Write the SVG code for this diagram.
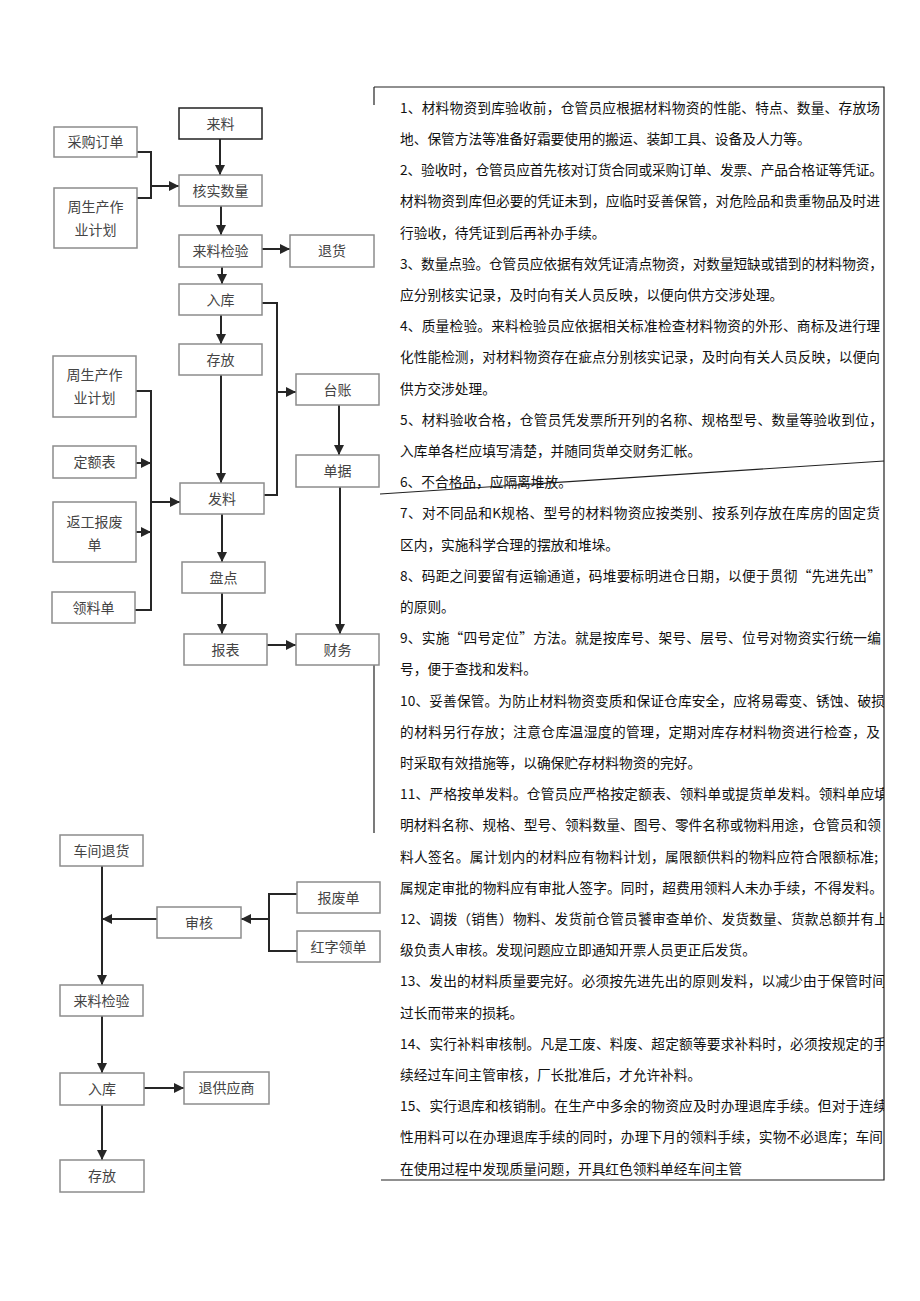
<svg xmlns="http://www.w3.org/2000/svg" width="920" height="1301" viewBox="0 0 920 1301">
<style>
.box rect{fill:#fff;stroke:#8c8c8c;stroke-width:1.5}
.box.dark rect{stroke:#222}
.box text{font-family:"Noto Sans CJK SC",sans-serif;font-size:14px;fill:#444;text-anchor:middle}
.con path{fill:none;stroke:#262626;stroke-width:2}
.frame{fill:none;stroke:#222;stroke-width:1.2}
.para text{font-family:"Noto Sans CJK SC",sans-serif;font-size:13.7px;fill:#111}
</style>
<defs>
<marker id="ar" markerUnits="userSpaceOnUse" markerWidth="10" markerHeight="10" viewBox="0 0 10 10" refX="10" refY="5" orient="auto">
<path d="M0,0 L10,5 L0,10 z" fill="#262626"/>
</marker>
<clipPath id="clip"><rect x="380" y="88" width="504" height="1092"/></clipPath>
</defs>
<rect width="920" height="1301" fill="#fff"/>

<g id="frame">
<path class="frame" d="M374,87 H884 V1180 H381"/>
<path class="frame" d="M374,87 V105"/>
<path class="frame" d="M374,665 V833"/>
<path class="frame" d="M380,494 L884,461"/>
</g>

<g class="para" clip-path="url(#clip)">
<text x="400" y="112.7" textLength="480" lengthAdjust="spacing">1、材料物资到库验收前，仓管员应根据材料物资的性能、特点、数量、存放场</text>
<text x="400" y="143.9">地、保管方法等准备好霜要使用的搬运、装卸工具、设备及人力等。</text>
<text x="400" y="175.1" textLength="483" lengthAdjust="spacing">2、验收时，仓管员应首先核对订货合同或采购订单、发票、产品合格证等凭证。</text>
<text x="400" y="206.3" textLength="480" lengthAdjust="spacing">材料物资到库但必要的凭证未到，应临时妥善保管，对危险品和贵重物品及时进</text>
<text x="400" y="237.5">行验收，待凭证到后再补办手续。</text>
<text x="400" y="268.7" textLength="483" lengthAdjust="spacing">3、数量点验。仓管员应依据有效凭证清点物资，对数量短缺或错到的材料物资，</text>
<text x="400" y="299.9">应分别核实记录，及时向有关人员反映，以便向供方交涉处理。</text>
<text x="400" y="331.1" textLength="480" lengthAdjust="spacing">4、质量检验。来料检验员应依据相关标准检查材料物资的外形、商标及进行理</text>
<text x="400" y="362.3" textLength="480" lengthAdjust="spacing">化性能检测，对材料物资存在疵点分别核实记录，及时向有关人员反映，以便向</text>
<text x="400" y="393.5">供方交涉处理。</text>
<text x="400" y="424.7" textLength="483" lengthAdjust="spacing">5、材料验收合格，仓管员凭发票所开列的名称、规格型号、数量等验收到位，</text>
<text x="400" y="455.9">入库单各栏应填写清楚，并随同货单交财务汇帐。</text>
<text x="400" y="487.1">6、不合格品，应隔离堆放。</text>
<text x="400" y="518.3" textLength="480" lengthAdjust="spacing">7、对不同品和K规格、型号的材料物资应按类别、按系列存放在库房的固定货</text>
<text x="400" y="549.5">区内，实施科学合理的摆放和堆垛。</text>
<text x="400" y="580.7" textLength="481" lengthAdjust="spacing">8、码距之间要留有运输通道，码堆要标明进仓日期，以便于贯彻“先进先出”</text>
<text x="400" y="611.9">的原则。</text>
<text x="400" y="643.1" textLength="481" lengthAdjust="spacing">9、实施“四号定位”方法。就是按库号、架号、层号、位号对物资实行统一编</text>
<text x="400" y="674.3">号，便于查找和发料。</text>
<text x="400" y="705.5" textLength="485" lengthAdjust="spacing">10、妥善保管。为防止材料物资变质和保证仓库安全，应将易霉变、锈蚀、破损</text>
<text x="400" y="736.7" textLength="480" lengthAdjust="spacing">的材料另行存放；注意仓库温湿度的管理，定期对库存材料物资进行检查，及</text>
<text x="400" y="767.9">时采取有效措施等，以确保贮存材料物资的完好。</text>
<text x="400" y="799.1" textLength="488" lengthAdjust="spacing">11、严格按单发料。仓管员应严格按定额表、领料单或提货单发料。领料单应填</text>
<text x="400" y="830.3" textLength="481" lengthAdjust="spacing">明材料名称、规格、型号、领料数量、图号、零件名称或物料用途，仓管员和领</text>
<text x="400" y="861.5" textLength="478" lengthAdjust="spacing">料人签名。属计划内的材料应有物料计划，属限额供料的物料应符合限额标准;</text>
<text x="400" y="892.7" textLength="483" lengthAdjust="spacing">属规定审批的物料应有审批人签字。同时，超费用领料人未办手续，不得发料。</text>
<text x="400" y="923.9" textLength="488" lengthAdjust="spacing">12、调拨（销售）物料、发货前仓管员饕审查单价、发货数量、货款总额并有上</text>
<text x="400" y="955.1">级负责人审核。发现问题应立即通知开票人员更正后发货。</text>
<text x="400" y="986.3" textLength="486" lengthAdjust="spacing">13、发出的材料质量要完好。必须按先进先出的原则发料，以减少由于保管时间</text>
<text x="400" y="1017.5">过长而带来的损耗。</text>
<text x="400" y="1048.7" textLength="487" lengthAdjust="spacing">14、实行补料审核制。凡是工废、料废、超定额等要求补料时，必须按规定的手</text>
<text x="400" y="1079.9">续经过车间主管审核，厂长批准后，才允许补料。</text>
<text x="400" y="1111.1" textLength="487" lengthAdjust="spacing">15、实行退库和核销制。在生产中多余的物资应及时办理退库手续。但对于连续</text>
<text x="400" y="1142.3" textLength="483" lengthAdjust="spacing">性用料可以在办理退库手续的同时，办理下月的领料手续，实物不必退库；车间</text>
<text x="400" y="1173.5">在使用过程中发现质量问题，开具红色领料单经车间主管</text>
</g>

<g class="con" id="connectors">
<path d="M220,139 V175" marker-end="url(#ar)"/>
<path d="M137,152 H151 V198 H137"/>
<path d="M151,186 H179" marker-end="url(#ar)"/>
<path d="M221,206 V235" marker-end="url(#ar)"/>
<path d="M262,249 H290" marker-end="url(#ar)"/>
<path d="M222,267 V284" marker-end="url(#ar)"/>
<path d="M262,303 H277 V495 H264"/>
<path d="M277,392 H296" marker-end="url(#ar)"/>
<path d="M221,315 V344" marker-end="url(#ar)"/>
<path d="M221,375 V483" marker-end="url(#ar)"/>
<path d="M339,405 V455" marker-end="url(#ar)"/>
<path d="M340,487 V634" marker-end="url(#ar)"/>
<path d="M136,391 H151 V610 H135"/>
<path d="M136,463 H151" marker-end="url(#ar)"/>
<path d="M136,532 H151" marker-end="url(#ar)"/>
<path d="M151,502 H180" marker-end="url(#ar)"/>
<path d="M222,514 V562" marker-end="url(#ar)"/>
<path d="M222,593 V634" marker-end="url(#ar)"/>
<path d="M267,645 H296" marker-end="url(#ar)"/>
<path d="M102,866 V985" marker-end="url(#ar)"/>
<path d="M157,919 H102" marker-end="url(#ar)"/>
<path d="M297,894 H269 V951 H297"/>
<path d="M269,919 H241" marker-end="url(#ar)"/>
<path d="M102,1016 V1073" marker-end="url(#ar)"/>
<path d="M144,1088 H184" marker-end="url(#ar)"/>
<path d="M102,1105 V1160" marker-end="url(#ar)"/>
</g>

<g id="n1" class="box dark"><rect x="179" y="108" width="83" height="31"/><text x="220.5" y="128.8">来料</text></g>
<g id="n2" class="box"><rect x="54" y="127" width="83" height="30"/><text x="95.5" y="147.3">采购订单</text></g>
<g id="n3" class="box"><rect x="54" y="188" width="83" height="60"/><text x="95.5" y="212.3">周生产作</text><text x="95.5" y="235.3">业计划</text></g>
<g id="n4" class="box"><rect x="179" y="175" width="83" height="31"/><text x="220.5" y="195.8">核实数量</text></g>
<g id="n5" class="box"><rect x="179" y="235" width="83" height="32"/><text x="220.5" y="256.3">来料检验</text></g>
<g id="n6" class="box"><rect x="290" y="235" width="84" height="32"/><text x="332" y="256.3">退货</text></g>
<g id="n7" class="box"><rect x="179" y="284" width="83" height="31"/><text x="220.5" y="304.8">入库</text></g>
<g id="n8" class="box"><rect x="179" y="344" width="83" height="31"/><text x="220.5" y="364.8">存放</text></g>
<g id="n9" class="box"><rect x="296" y="374" width="83" height="31"/><text x="337.5" y="394.8">台账</text></g>
<g id="n10" class="box"><rect x="296" y="455" width="83" height="32"/><text x="337.5" y="476.3">单据</text></g>
<g id="n11" class="box"><rect x="53" y="356" width="83" height="61"/><text x="94.5" y="380.3">周生产作</text><text x="94.5" y="403.3">业计划</text></g>
<g id="n12" class="box"><rect x="53" y="446" width="83" height="32"/><text x="94.5" y="467.3">定额表</text></g>
<g id="n13" class="box"><rect x="53" y="502" width="83" height="60"/><text x="94.5" y="527.3">返工报废</text><text x="94.5" y="550.3">单</text></g>
<g id="n14" class="box"><rect x="52" y="592" width="83" height="31"/><text x="93.5" y="612.8">领料单</text></g>
<g id="n15" class="box"><rect x="180" y="483" width="84" height="31"/><text x="222" y="503.8">发料</text></g>
<g id="n16" class="box"><rect x="182" y="562" width="83" height="31"/><text x="223.5" y="582.8">盘点</text></g>
<g id="n17" class="box"><rect x="184" y="634" width="83" height="31"/><text x="225.5" y="654.8">报表</text></g>
<g id="n18" class="box"><rect x="296" y="634" width="83" height="31"/><text x="337.5" y="654.8">财务</text></g>

<g id="n19" class="box"><rect x="60" y="835" width="83" height="31"/><text x="101.5" y="855.8">车间退货</text></g>
<g id="n20" class="box"><rect x="157" y="907" width="84" height="31"/><text x="199" y="927.8">审核</text></g>
<g id="n21" class="box"><rect x="297" y="882" width="83" height="31"/><text x="338.5" y="902.8">报废单</text></g>
<g id="n22" class="box"><rect x="297" y="931" width="83" height="31"/><text x="338.5" y="951.8">红字领单</text></g>
<g id="n23" class="box"><rect x="60" y="985" width="83" height="31"/><text x="101.5" y="1005.8">来料检验</text></g>
<g id="n24" class="box"><rect x="60" y="1073" width="84" height="32"/><text x="102" y="1094.3">入库</text></g>
<g id="n25" class="box"><rect x="184" y="1072" width="85" height="32"/><text x="226.5" y="1093.3">退供应商</text></g>
<g id="n26" class="box"><rect x="60" y="1160" width="84" height="32"/><text x="102" y="1181.3">存放</text></g>
</svg>
